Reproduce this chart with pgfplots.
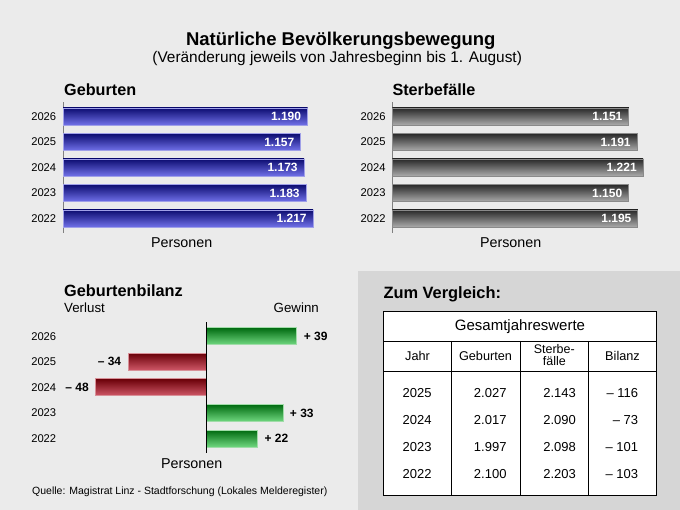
\documentclass[border=0pt]{standalone}
\usepackage{pgfplots}
\pgfplotsset{compat=1.18}
\usepackage{fontspec}
\setmainfont{Liberation Sans}
\definecolor{bgc}{HTML}{EBEBEB}
\definecolor{boxc}{HTML}{D6D6D6}
\definecolor{bluetop}{HTML}{0C0C70}
\definecolor{bluebot}{HTML}{7070E8}
\definecolor{blueb}{HTML}{A0A0E8}
\definecolor{graytop}{HTML}{282828}
\definecolor{graybot}{HTML}{AAAAAA}
\definecolor{grayb}{HTML}{8A8A8A}
\definecolor{redtop}{HTML}{6A0008}
\definecolor{redbot}{HTML}{D05868}
\definecolor{redb}{HTML}{D89098}
\definecolor{greentop}{HTML}{006A10}
\definecolor{greenbot}{HTML}{70D880}
\definecolor{greenb}{HTML}{A0DCA8}
\newcommand{\fs}[1]{\fontsize{#1}{#1}\selectfont}
\pgfplotsset{
  /pgf/number format/assume math mode=true,
  hbar/.style={
    xbar, scale only axis, clip=false,
    axis x line=none, axis y line*=left,
    ymin=-0.57, ymax=4.57, height=131.1pt,
    ytick={0,1,2,3,4}, yticklabels={2022,2023,2024,2025,2026},
    major tick length=0pt,
    yticklabel style={font=\fs{11.2}, inner sep=0pt, xshift=-6.6pt},
    bar width=17pt, bar shift=0pt,
  },
  inlab/.style={nodes near coords,
    every node near coord/.append style={anchor=east, text=white, font=\fs{12}\bfseries, xshift=-2.7pt,
    /pgf/number format/1000 sep={.}}},
  bluebar/.style={top color=bluetop, bottom color=bluebot, draw=blueb, line width=0.8pt, inlab},
  graybar/.style={top color=graytop, bottom color=graybot, draw=grayb, line width=0.8pt, inlab},
  greenbar/.style={top color=greentop, bottom color=greenbot, draw=greenb, line width=0.8pt,
    nodes near coords, every node near coord/.append style={anchor=west, text=black, font=\fs{12}\bfseries, xshift=3.3pt}},
  redbar/.style={top color=redtop, bottom color=redbot, draw=redb, line width=0.8pt,
    nodes near coords, every node near coord/.append style={anchor=east, text=black, font=\fs{12}\bfseries, xshift=-3.3pt}},
}
\begin{document}
\begin{tikzpicture}[x=1pt,y=1pt]
\useasboundingbox (0,0) rectangle (680,510);
\fill[bgc] (0,0) rectangle (680,510);
\fill[boxc] (358,0) rectangle (680,239.3);

% titles
\node[anchor=base, inner sep=0] at (340.8,464) {\fs{18.5}\bfseries Natürliche Bevölkerungsbewegung};
\node[anchor=base, inner sep=0] at (337.2,447) {\fs{15.4}(Veränderung jeweils von Jahresbeginn bis 1. August)};
\node[anchor=base west, inner sep=0] at (64,414) {\fs{16.2}\bfseries Geburten};
\node[anchor=base west, inner sep=0] at (392.3,414) {\fs{16.2}\bfseries Sterbefälle};
\node[anchor=base west, inner sep=0] at (64,213.3) {\fs{16.3}\bfseries Geburtenbilanz};
\node[anchor=base west, inner sep=0] at (64,197) {\fs{13.3}Verlust};
\node[anchor=base east, inner sep=0] at (319,197) {\fs{13.3}Gewinn};
\node[anchor=base, inner sep=0] at (181.7,262) {\fs{14.3}Personen};
\node[anchor=base, inner sep=0] at (510.7,262) {\fs{14.3}Personen};
\node[anchor=base, inner sep=0] at (191.7,41.7) {\fs{14.3}Personen};
\node[anchor=base west, inner sep=0] at (32,15) {\fs{10.5}Quelle: Magistrat Linz - Stadtforschung (Lokales Melderegister)};

% Geburten
\begin{axis}[hbar, at={(63pt,277pt)}, anchor=south west,
  xmin=0, xmax=1350, width=277.4pt,
  y axis line style={draw=gray, line width=1pt},
]
\addplot[bluebar] coordinates {(1217,0)};
\addplot[bluebar] coordinates {(1183,1)};
\addplot[bluebar] coordinates {(1173,2)};
\addplot[bluebar] coordinates {(1157,3)};
\addplot[bluebar] coordinates {(1190,4)};
\end{axis}

% Sterbefälle
\begin{axis}[hbar, at={(392.3pt,277pt)}, anchor=south west,
  xmin=0, xmax=1350, width=277.4pt,
  y axis line style={draw=gray, line width=1pt},
]
\addplot[graybar] coordinates {(1195,0)};
\addplot[graybar] coordinates {(1150,1)};
\addplot[graybar] coordinates {(1221,2)};
\addplot[graybar] coordinates {(1191,3)};
\addplot[graybar] coordinates {(1151,4)};
\end{axis}

% Geburtenbilanz
\begin{axis}[hbar, at={(63pt,57.3pt)}, anchor=south west,
  xmin=-62.2, xmax=60, width=282.3pt,
  ymin=-0.55, ymax=4.57, height=131.1pt,
  y axis line style={draw=none},
  point meta=explicit symbolic,
]
\addplot[greenbar] coordinates {(22,0) [+ 22]};
\addplot[greenbar] coordinates {(33,1) [+ 33]};
\addplot[redbar] coordinates {(-48,2) [– 48]};
\addplot[redbar] coordinates {(-34,3) [– 34]};
\addplot[greenbar] coordinates {(39,4) [+ 39]};
\draw[black, line width=1pt] (axis cs:0,-0.55) -- (axis cs:0,4.57);
\end{axis}

% Table
\node[anchor=base west, inner sep=0] at (383.3,211.7) {\fs{16.4}\bfseries Zum Vergleich:};
\fill[white] (383.3,15) rectangle (656.7,198.3);
\draw[black, line width=0.9pt] (383.3,15) rectangle (656.7,198.3);
\draw[black, line width=0.9pt] (383.3,169) -- (656.7,169);
\draw[black, line width=0.9pt] (383.3,139) -- (656.7,139);
\foreach \x in {451.7,520.3,588.3} \draw[black, line width=0.9pt] (\x,169) -- (\x,15);
\node[anchor=base, inner sep=0] at (520,179.3) {\fs{15}Gesamtjahreswerte};
\node[anchor=base, inner sep=0] at (417.5,149.3) {\fs{12.7}Jahr};
\node[anchor=base, inner sep=0] at (485.5,149.3) {\fs{12.7}Geburten};
\node[anchor=base, inner sep=0] at (554.3,156.7) {\fs{12.5}Sterbe-};
\node[anchor=base, inner sep=0] at (554.3,144) {\fs{12.5}fälle};
\node[anchor=base, inner sep=0] at (622.5,149.3) {\fs{12.7}Bilanz};
\foreach \yy/\j/\g/\s/\b in {112.3/2025/2.027/2.143/{– 116}, 85.7/2024/2.017/2.090/{– 73}, 58.3/2023/1.997/2.098/{– 101}, 31/2022/2.100/2.203/{– 103}} {
  \node[anchor=base, inner sep=0] at (417.2,\yy) {\fs{13}\j};
  \node[anchor=base east, inner sep=0] at (506.7,\yy) {\fs{13}\g};
  \node[anchor=base east, inner sep=0] at (576,\yy) {\fs{13}\s};
  \node[anchor=base east, inner sep=0] at (638.3,\yy) {\fs{13}\b};
}
\end{tikzpicture}
\end{document}
